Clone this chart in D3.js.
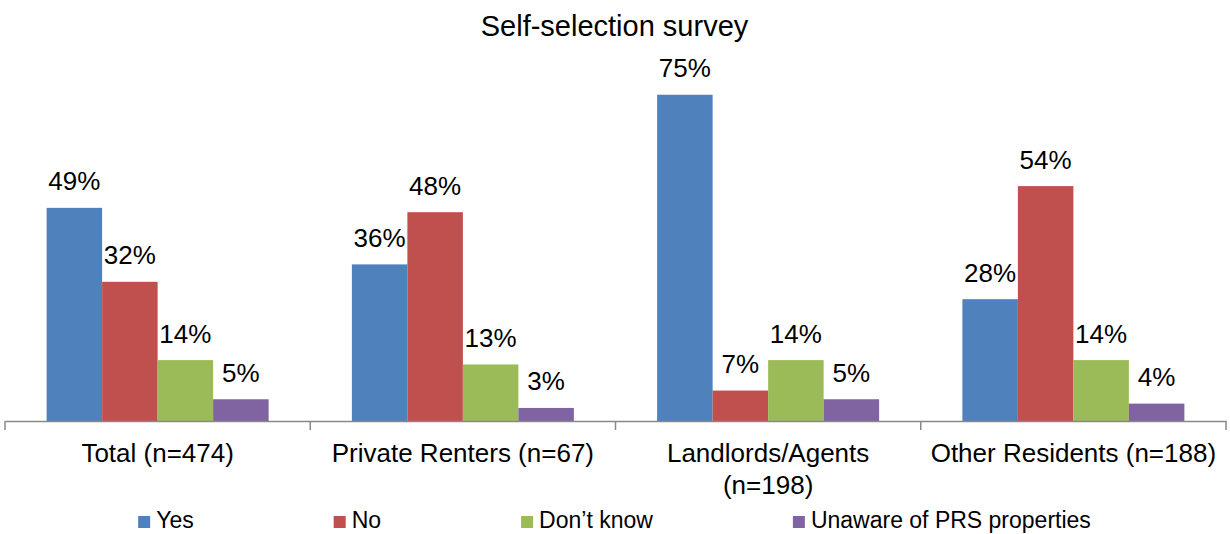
<!DOCTYPE html>
<html>
<head>
<meta charset="utf-8">
<script src="https://cdn.jsdelivr.net/npm/d3@7"></script>
<style>
  html, body { margin: 0; padding: 0; background: #fff; }
  svg { display: block; font-family: "Liberation Sans", Arial, sans-serif; }
</style>
</head>
<body>
<svg id="chart" width="1230" height="534"></svg>
<script>
// Survey responses, in percent
const categories = ["Total (n=474)", "Private Renters (n=67)", "Landlords/Agents (n=198)", "Other Residents (n=188)"];
const seriesNames = ["Yes", "No", "Don\u2019t know", "Unaware of PRS properties"];
const yesValues = [49, 36, 75, 28];
const noValues = [32, 48, 7, 54];
const dontKnowValues = [14, 13, 14, 14];
const unawareValues = [5, 3, 5, 4];
const seriesColors = ["#4F81BD", "#C0504D", "#9BBB59", "#8064A2"];
const titleText = "Self-selection survey";

const seriesValues = [yesValues, noValues, dontKnowValues, unawareValues];
const rows = categories.map((c, i) => ({
  category: c,
  values: seriesNames.map((s, j) => ({ series: s, value: seriesValues[j][i], color: seriesColors[j] }))
}));

const svg = d3.select("#chart");
const plot = { left: 5, right: 1226, baseline: 421 };

const x0 = d3.scaleBand().domain(categories).range([plot.left, plot.right]).padding(0);
const x1 = d3.scaleBand().domain(seriesNames).range([0, x0.bandwidth()]).paddingInner(0).paddingOuter(0.75);
const y = d3.scaleLinear().domain([0, 80]).range([plot.baseline, plot.baseline - 80 * 4.35]);

// Title
svg.append("text")
  .attr("x", 614.5).attr("y", 36)
  .attr("text-anchor", "middle")
  .style("font-size", "29px")
  .attr("fill", "#000")
  .text(titleText);

// Bars
const groups = svg.append("g").selectAll("g").data(rows).join("g")
  .attr("transform", d => `translate(${x0(d.category)},0)`);

groups.selectAll("rect").data(d => d.values).join("rect")
  .attr("x", d => x1(d.series))
  .attr("y", d => y(d.value))
  .attr("width", x1.bandwidth())
  .attr("height", d => y(0) - y(d.value))
  .attr("fill", d => d.color);

// Value labels
groups.selectAll("text.val").data(d => d.values).join("text")
  .attr("class", "val")
  .attr("x", d => x1(d.series) + x1.bandwidth() / 2)
  .attr("y", d => y(d.value) - 17.5)
  .attr("text-anchor", "middle")
  .style("font-size", "26px")
  .attr("fill", "#000")
  .text(d => d.value + "%");

// Category axis
const axis = d3.axisBottom(x0).tickSize(0).tickFormat("");
const axisG = svg.append("g").attr("transform", `translate(0,${plot.baseline})`).call(axis);
axisG.select(".domain").attr("stroke", "#898989").attr("stroke-width", 1.5);

// Tick marks at category boundaries
const boundaries = categories.map(c => x0(c)).concat([plot.right]);
svg.append("g").selectAll("line").data(boundaries).join("line")
  .attr("x1", d => d).attr("x2", d => d)
  .attr("y1", plot.baseline).attr("y2", plot.baseline + 9)
  .attr("stroke", "#898989").attr("stroke-width", 1.5);

// Category labels, wrapped to the usable label width
const catLabels = svg.append("g").selectAll("text").data(categories).join("text")
  .attr("x", d => x0(d) + x0.bandwidth() / 2)
  .attr("y", 462)
  .attr("text-anchor", "middle")
  .style("font-size", "26px")
  .attr("fill", "#000");

catLabels.each(function(d) {
  const t = d3.select(this);
  const words = d.split(" ");
  const maxW = 292;
  let line = [];
  let tspan = t.append("tspan").attr("x", t.attr("x")).attr("dy", 0);
  words.forEach(w => {
    line.push(w);
    tspan.text(line.join(" "));
    if (tspan.node().getComputedTextLength() > maxW && line.length > 1) {
      line.pop();
      tspan.text(line.join(" "));
      line = [w];
      tspan = t.append("tspan").attr("x", t.attr("x")).attr("dy", 32).text(w);
    }
  });
});

// Legend
const legend = svg.append("g");
const items = legend.selectAll("g").data(seriesNames).join("g");
items.append("rect")
  .attr("width", 12).attr("height", 12)
  .attr("y", 516)
  .attr("fill", (d, i) => seriesColors[i]);
items.append("text")
  .attr("x", 18).attr("y", 528)
  .style("font-size", "23px")
  .attr("fill", "#000")
  .text(d => d);

let widths = [];
items.each(function() {
  widths.push(18 + d3.select(this).select("text").node().getComputedTextLength());
});
const gap = 140;
const total = d3.sum(widths) + gap * (widths.length - 1);
let cx = 614.5 - total / 2;
items.each(function(d, i) {
  d3.select(this).attr("transform", `translate(${cx},0)`);
  cx += widths[i] + gap;
});
</script>
</body>
</html>
